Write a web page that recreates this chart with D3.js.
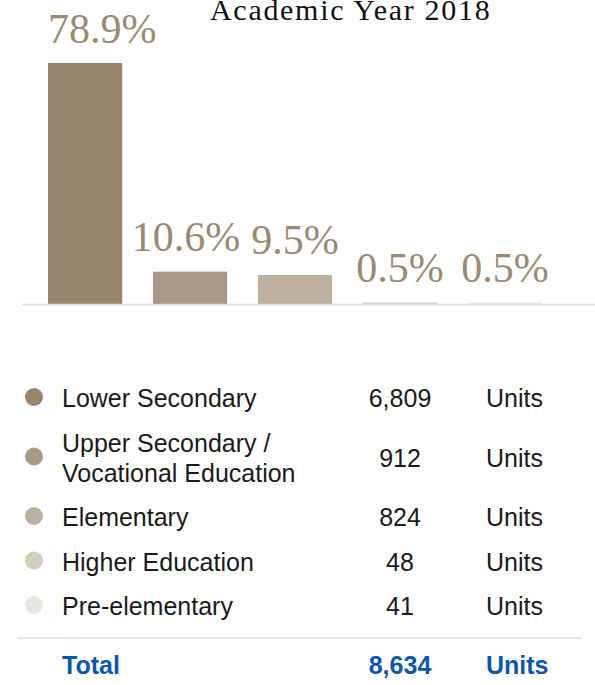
<!DOCTYPE html>
<html>
<head>
<meta charset="utf-8">
<script src="https://d3js.org/d3.v7.min.js"></script>
<style>
  body { margin: 0; background: #fff; }
  svg { display: block; }
  .label { font-family: "Liberation Serif", serif; font-size: 42px; fill: #9b8a72; }
  .title { font-family: "Liberation Serif", serif; font-size: 30px; fill: #111; letter-spacing: 1.7px; }
  .row text { font-family: "Liberation Sans", Arial, sans-serif; font-size: 25px; fill: #1a1a1a; }
  .total text { font-family: "Liberation Sans", Arial, sans-serif; font-size: 25px; font-weight: bold; fill: #0d56b0; }
</style>
</head>
<body>
<svg id="chart" width="595" height="685"></svg>
<script>
  // chart data
  var categories = ["Lower Secondary", "Upper Secondary / Vocational Education", "Elementary", "Higher Education", "Pre-elementary"];
  var legendLines = [["Lower Secondary"], ["Upper Secondary /", "Vocational Education"], ["Elementary"], ["Higher Education"], ["Pre-elementary"]];
  var percents = [78.9, 10.6, 9.5, 0.5, 0.5];
  var units = [6809, 912, 824, 48, 41];
  var totalUnits = 8634;
  var colors = ["#98866c", "#aa9985", "#bdb09f", "#d5ccc0", "#ebe6e0"];

  var svg = d3.select("#chart");

  var x = d3.scaleBand()
      .domain(categories)
      .range([48, 542])
      .paddingInner(0.293)
      .paddingOuter(0);

  var y = d3.scaleLinear()
      .domain([0, d3.max(percents)])
      .range([304, 63]);

  // title (sits right at the top edge)
  svg.append("text")
      .attr("class", "title")
      .attr("x", 210)
      .attr("y", 20)
      .text("Academic Year 2018");

  // bars
  svg.selectAll(".bar")
      .data(percents)
    .enter().append("rect")
      .attr("class", "bar")
      .attr("x", function(d, i) { return x(categories[i]); })
      .attr("y", function(d) { return y(d); })
      .attr("width", x.bandwidth())
      .attr("height", function(d) { return y(0) - y(d); })
      .style("fill", function(d, i) { return colors[i]; });

  // baseline
  svg.append("line")
      .attr("x1", 22).attr("x2", 595)
      .attr("y1", y(0) + 0.5).attr("y2", y(0) + 0.5)
      .style("stroke", "#e9dfcf")
      .style("stroke-width", 1.5);

  // value labels
  svg.selectAll(".label")
      .data(percents)
    .enter().append("text")
      .attr("class", "label")
      .attr("x", function(d, i) {
        return i == 0 ? x(categories[i]) : x(categories[i]) + x.bandwidth() / 2 - (i == 1 ? 4 : 0);
      })
      .attr("y", function(d) { return y(d) - 20.5; })
      .attr("text-anchor", function(d, i) { return i == 0 ? "start" : "middle"; })
      .text(function(d) { return d.toFixed(1) + "%"; });

  // legend table
  var lineH = 30, rowH = 44.5;
  var centers = [];
  var cy = 397;
  legendLines.forEach(function(lines, i) {
    var h = rowH + (lines.length - 1) * lineH;
    if (i > 0) cy += h / 2;
    centers.push(cy);
    cy += h / 2;
  });

  var fmt = d3.format(",");

  var rows = svg.selectAll(".row")
      .data(legendLines)
    .enter().append("g")
      .attr("class", "row")
      .attr("transform", function(d, i) { return "translate(0," + centers[i] + ")"; });

  rows.append("circle")
      .attr("cx", 34)
      .attr("cy", 0)
      .attr("r", 9)
      .style("fill", function(d, i) { return colors[i]; });

  rows.each(function(lines) {
    var g = d3.select(this);
    lines.forEach(function(s, j) {
      g.append("text")
          .attr("x", 62)
          .attr("y", 10 + (j - (lines.length - 1) / 2) * lineH)
          .text(s);
    });
  });

  rows.append("text")
      .attr("x", 400)
      .attr("y", 10)
      .attr("text-anchor", "middle")
      .text(function(d, i) { return fmt(units[i]); });

  rows.append("text")
      .attr("x", 486)
      .attr("y", 10)
      .text("Units");

  // separator + total
  svg.append("line")
      .attr("x1", 17).attr("x2", 582)
      .attr("y1", 638).attr("y2", 638)
      .style("stroke", "#eadfcf")
      .style("stroke-width", 1.5);

  var total = svg.append("g").attr("class", "total");
  total.append("text").attr("x", 62).attr("y", 674).text("Total");
  total.append("text").attr("x", 400).attr("y", 674).attr("text-anchor", "middle").text(fmt(totalUnits));
  total.append("text").attr("x", 486).attr("y", 674).text("Units");
</script>
</body>
</html>
